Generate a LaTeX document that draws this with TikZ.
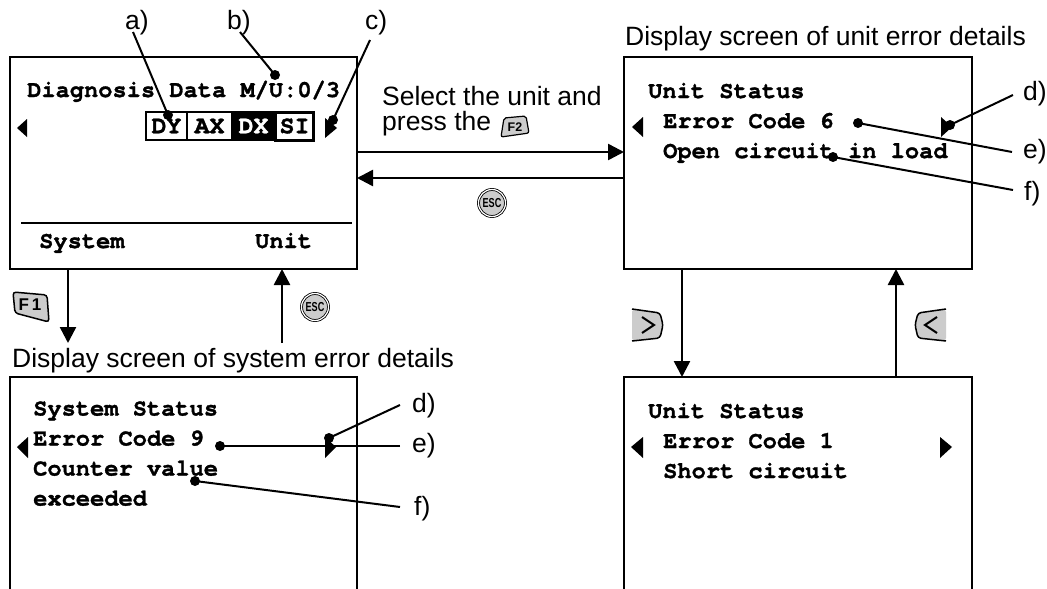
\documentclass[tikz,border=0pt]{standalone}
\usepackage{fontspec}
\usepackage{graphicx}
\setmainfont{Liberation Sans}
\setmonofont{TeX Gyre Cursor}[BoldFeatures={FakeBold=1.3}]
\usetikzlibrary{arrows.meta}
\definecolor{keygray}{gray}{0.8}
\begin{document}
\begin{tikzpicture}[x=1pt,y=-1pt,
  scr/.style={draw,line width=1.8pt,inner sep=0pt,outer sep=0pt},
  mono/.style={font=\ttfamily\bfseries\fontsize{23.7}{28}\selectfont,anchor=base west,inner sep=0pt},
  lbl/.style={font=\fontsize{26.5}{30}\selectfont,anchor=base west,inner sep=0pt},
  arr/.style={line width=2.5pt,-{Triangle[length=16pt,width=16pt]}},
  lead/.style={line width=2pt},
  dot/.style={circle,fill=black,inner sep=0pt,minimum size=10pt},
  keyf/.style={fill=keygray,draw=black,line width=1.5pt,rounded corners=3pt},
  keytxt/.style={font=\bfseries\fontsize{17}{17}\selectfont,inner sep=0pt},
  escb/.style={circle,draw=black,line width=0.8pt,double=white,double distance=1.2pt,fill=keygray,minimum size=27pt,inner sep=0pt,font=\bfseries\fontsize{13}{13}\selectfont},
  tab/.style={draw=black,line width=1.5pt,minimum width=41pt,minimum height=28pt,inner sep=0pt,font=\ttfamily\bfseries\fontsize{25}{28}\selectfont}
]
\useasboundingbox[fill=white] (0,0) rectangle (1047,589);

% screens
\node[scr,minimum width=347pt,minimum height=212pt] (A) at (183.5,163) {};
\node[scr,minimum width=348pt,minimum height=212pt] (B) at (798,163) {};
\node[scr,minimum width=347pt,minimum height=223pt] (C) at (183.5,488.5) {};
\node[scr,minimum width=348pt,minimum height=223pt] (D) at (798,488.5) {};

% screen A content
\node[mono] (tA1) at (27,97) {Diagnosis Data M/U:0/3};
\draw[line width=1.8pt] (21,223) -- (352,223);
\node[mono] (tA2) at (39,248) {System};
\node[mono] (tA3) at (255,248) {Unit};
\fill (17,128) -- (27,119) -- (27,137) -- cycle;
\fill (325,118) -- (325,138) -- (337,128) -- cycle;
\node[tab,minimum width=41pt] (tDY) at (166.5,126) {DY};
\node[tab,minimum width=45pt] (tAX) at (209.5,126) {AX};
\node[tab,minimum width=43pt,fill=black,text=white] (tDX) at (253.5,126) {DX};
\node[tab,minimum width=38pt,line width=3pt,fill=white] (tSI) at (294.5,126) {SI};

% screen B content
\node[mono] (tB1) at (648,98) {Unit Status};
\node[mono] (tB2) at (663,128) {Error Code 6};
\node[mono] (tB3) at (663,158) {Open circuit in load};
\fill (632,127) -- (643,117) -- (643,137) -- cycle;
\fill (941,117) -- (941,137) -- (952,127) -- cycle;

% screen C content
\node[mono] (tC1) at (33,415.5) {System Status};
\node[mono] (tC2) at (33,445.5) {Error Code 9};
\node[mono] (tC3) at (33,475.5) {Counter value};
\node[mono] (tC4) at (33,505.5) {exceeded};
\fill (17,447) -- (28,437) -- (28,458) -- cycle;
\fill (325,437) -- (325,458) -- (336,447) -- cycle;

% screen D content
\node[mono] (tD1) at (648,418) {Unit Status};
\node[mono] (tD2) at (663,448) {Error Code 1};
\node[mono] (tD3) at (663,478) {Short circuit};
\fill (631,447) -- (643,437) -- (643,458) -- cycle;
\fill (940,437) -- (940,458) -- (952,447) -- cycle;

% titles and captions
\node[lbl] (capB) at (625,45) {Display screen of unit error details};
\node[lbl] (capC) at (12,367) {Display screen of system error details};
\node[lbl] (sel1) at (382,105) {Select the unit and};
\node[lbl] (sel2) at (382,130) {press the};

% arrows
\coordinate (yA) at (0,152);
\coordinate (yB) at (0,178);
\draw[arr] (A.east |- yA) -- (B.west |- yA);
\draw[arr] (B.west |- yB) -- (A.east |- yB);
\coordinate (f1end) at (68,343);
\draw[arr] (A.south -| f1end) -- (f1end);
\coordinate (escstart) at (282,343);
\draw[arr] (escstart) -- (A.south -| escstart);
\coordinate (xr1) at (682,0);
\draw[arr] (B.south -| xr1) -- (D.north -| xr1);
\coordinate (xr2) at (896,0);
\draw[arr] (D.north -| xr2) -- (B.south -| xr2);

% keys
\draw[keyf] (13,292) -- (47,295) -- (49,322) -- (15,313) -- cycle;
\node[keytxt] (kF1) at (30,305) {F\,1};
\draw[keyf,line width=1.2pt,rounded corners=2pt] (504,118) -- (526,116) -- (529,133) -- (501,137) -- cycle;
\node[keytxt,font=\bfseries\fontsize{12.5}{12}\selectfont] (kF2) at (515,127) {F2};
\node[escb] (esc1) at (492,203) {\scalebox{0.7}[1]{ESC}};
\node[escb] (esc2) at (315,307) {\scalebox{0.7}[1]{ESC}};
% right key
\fill[keygray,rounded corners=3pt] (632,309) -- (660,313) -- (663,325) -- (660,338) -- (632,341) -- cycle;
\draw[line width=1.5pt,rounded corners=3pt] (632,309) -- (660,313) -- (663,325) -- (660,338) -- (632,341);
\draw[line width=2pt] (642,317) -- (654,325) -- (642,333);
% left key
\fill[keygray,rounded corners=3pt] (946,309) -- (918,313) -- (915,325) -- (918,338) -- (946,341) -- cycle;
\draw[line width=1.5pt,rounded corners=3pt] (946,309) -- (918,313) -- (915,325) -- (918,338) -- (946,341);
\draw[line width=2pt] (937,317) -- (925,325) -- (937,333);

% callout labels
\node[lbl] (la) at (125,29) {a)};
\node[lbl] (lb) at (227,29) {b)};
\node[lbl] (lc) at (365,29) {c)};
\node[dot] (da) at (168,115) {};
\node[dot] (db) at (275,75) {};
\node[dot] (dc) at (333,120) {};
\coordinate (sa) at (133,32);
\coordinate (sb) at (240,32);
\coordinate (sc) at (370,40);
\draw[lead] (sa) -- (da.center);
\draw[lead] (sb) -- (db.center);
\draw[lead] (sc) -- (dc.center);

\node[lbl] (ldB) at (1023,100) {d)};
\node[lbl] (leB) at (1023,158) {e)};
\node[lbl] (lfB) at (1024,200) {f)};
\node[dot] (ddB) at (950,125) {};
\node[dot] (deB) at (858,123) {};
\node[dot] (dfB) at (833,157) {};
\coordinate (sdB) at (1013,95);
\coordinate (seB) at (1012,152);
\coordinate (sfB) at (1013,190);
\draw[lead] (sdB) -- (ddB.center);
\draw[lead] (seB) -- (deB.center);
\draw[lead] (sfB) -- (dfB.center);

\node[lbl] (ldC) at (412,412) {d)};
\node[lbl] (leC) at (412,452) {e)};
\node[lbl] (lfC) at (414,515) {f)};
\node[dot] (ddC) at (329,438) {};
\node[dot] (deC) at (220,446) {};
\node[dot] (dfC) at (195,481) {};
\coordinate (sdC) at (400,405);
\coordinate (seC) at (400,446);
\coordinate (sfC) at (400,507);
\draw[lead] (sdC) -- (ddC.center);
\draw[lead] (seC) -- (deC.center);
\draw[lead] (sfC) -- (dfC.center);
\end{tikzpicture}
\end{document}
